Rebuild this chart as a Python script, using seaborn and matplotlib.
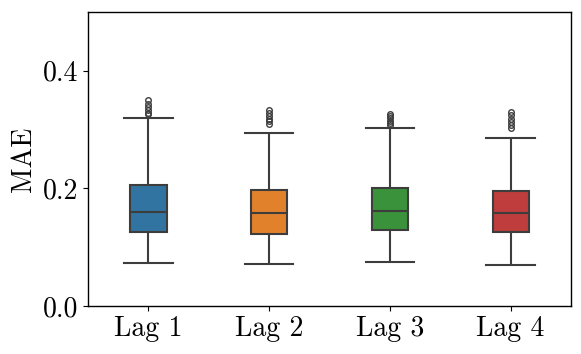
import numpy as np
import pandas as pd
import matplotlib
matplotlib.use("Agg")
import matplotlib.pyplot as plt
import seaborn as sns

# Summary statistics
lags = ["Lag 1", "Lag 2", "Lag 3", "Lag 4"]
whisker_low = [0.073, 0.071, 0.074, 0.070]
q1 = [0.125, 0.123, 0.130, 0.125]
median = [0.160, 0.159, 0.161, 0.158]
q3 = [0.205, 0.197, 0.200, 0.195]
whisker_high = [0.319, 0.295, 0.302, 0.285]
outliers = [
    [0.326, 0.329, 0.333, 0.338, 0.344, 0.350],
    [0.310, 0.314, 0.318, 0.323, 0.328, 0.333],
    [0.307, 0.311, 0.315, 0.319, 0.323, 0.327],
    [0.302, 0.308, 0.313, 0.318, 0.324, 0.330],
]
yticks = [0.0, 0.2, 0.4]

# Build a sample whose box statistics reproduce the values above
rows = []
M = 10
for i, lag in enumerate(lags):
    k = len(outliers[i])
    vals = ([whisker_low[i]] * (1 + k) + [q1[i]] * M + [median[i]] * M
            + [q3[i]] * M + [whisker_high[i]] + outliers[i])
    rows += [(lag, v) for v in vals]
df = pd.DataFrame(rows, columns=["lag", "mae"])

plt.rcParams.update({
    "font.family": "serif",
    "font.serif": ["cmr10"],
    "mathtext.fontset": "cm",
    "axes.formatter.use_mathtext": True,
    "font.size": 20,
})

fig = plt.figure(figsize=(5.81, 3.54), dpi=100)
ax = fig.add_axes([0.1515, 0.1356, 0.8313, 0.8305])
sns.boxplot(data=df, x="lag", y="mae", hue="lag", order=lags, hue_order=lags,
            width=0.3, legend=False, fliersize=4, linewidth=1.5,
            ax=ax, capwidths=0.4)
ax.set_ylim(0, 0.5)
ax.set_xlim(-0.5, 3.5)
ax.set_yticks(yticks)
ax.set_yticklabels([f"{t:.1f}" for t in yticks])
ax.set_xlabel("")
ax.set_ylabel("MAE", fontsize=20)
ax.tick_params(labelsize=20)
for s in ax.spines.values():
    s.set_linewidth(1.0)
fig.savefig("out.png", dpi=100)
